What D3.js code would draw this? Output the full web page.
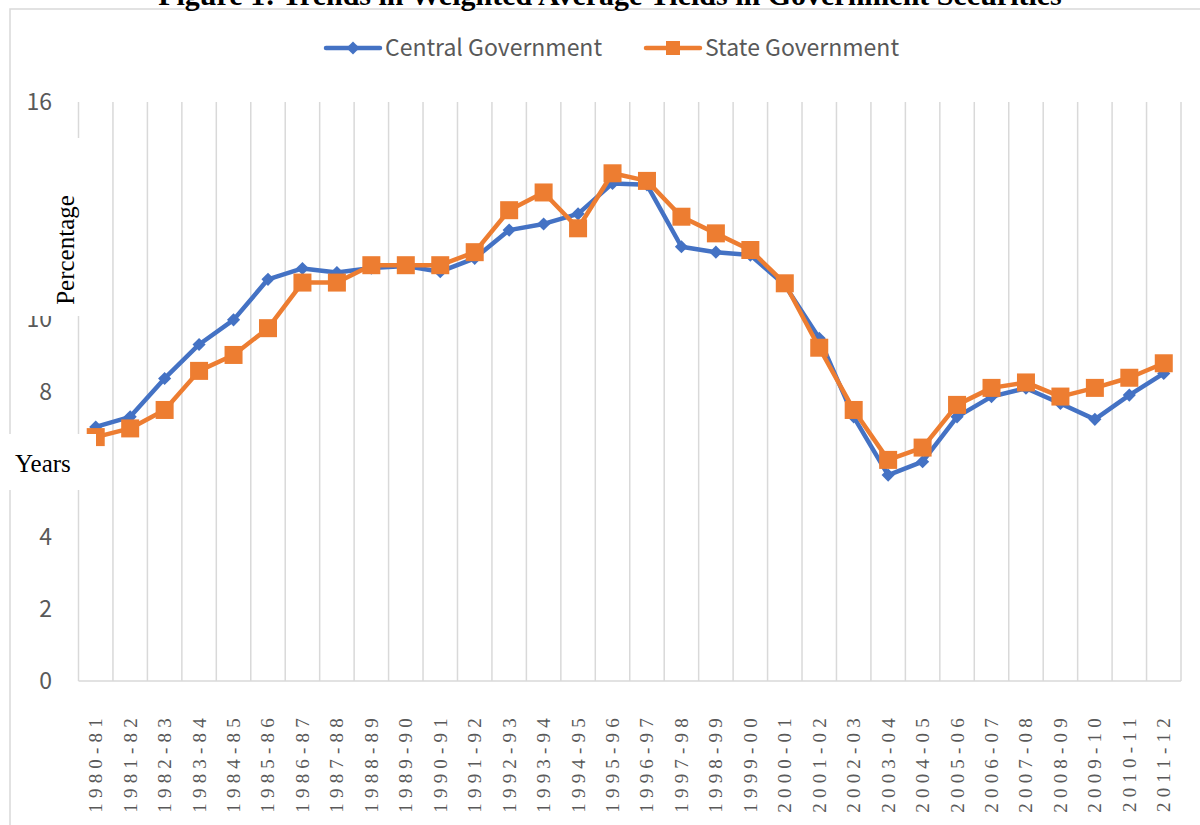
<!DOCTYPE html>
<html>
<head>
<meta charset="utf-8">
<script src="https://cdn.jsdelivr.net/npm/d3@7"></script>
<style>
  body { margin: 0; background: #fff; }
  svg { display: block; }
</style>
</head>
<body>
<svg></svg>
<script>
// financial years on the x axis
var years = ["1980-81","1981-82","1982-83","1983-84","1984-85","1985-86","1986-87","1987-88",
  "1988-89","1989-90","1990-91","1991-92","1992-93","1993-94","1994-95","1995-96",
  "1996-97","1997-98","1998-99","1999-00","2000-01","2001-02","2002-03","2003-04",
  "2004-05","2005-06","2006-07","2007-08","2008-09","2009-10","2010-11","2011-12"];

// weighted average yields (%)
var central = [7.02, 7.30, 8.36, 9.30, 9.98, 11.10, 11.40, 11.29, 11.41, 11.47, 11.31, 11.68,
  12.46, 12.63, 12.91, 13.75, 13.71, 12.00, 11.85, 11.77, 10.94, 9.47, 7.30, 5.69,
  6.06, 7.30, 7.86, 8.09, 7.67, 7.23, 7.90, 8.50];
var state = [6.74, 6.98, 7.49, 8.57, 9.01, 9.75, 11.01, 11.01, 11.49, 11.49, 11.49, 11.85,
  13.01, 13.50, 12.51, 14.03, 13.82, 12.83, 12.37, 11.91, 10.99, 9.21, 7.49, 6.11,
  6.45, 7.63, 8.10, 8.25, 7.86, 8.10, 8.38, 8.78];

var yTicks = [0, 2, 4, 6, 8, 10, 12, 14, 16];
var seriesNames = ["Central Government", "State Government"];

var svgW = 1200;
var svgH = 825;
var svg = d3.select("svg")
            .attr("width", svgW)
            .attr("height", svgH);

var blue = "#4472C4";
var orange = "#ED7D31";
var grid = "#d9d9d9";
var textGray = "#595959";

// chart area border (runs off the right and bottom of the picture)
svg.append("rect")
  .attr("x", 10).attr("y", 9)
  .attr("width", 1300).attr("height", 900)
  .attr("fill", "none")
  .attr("stroke", grid)
  .attr("stroke-width", 1.5);

// title, cut off at the top
svg.append("text")
  .text("Figure 1: Trends in Weighted Average Yields in Government Securities")
  .attr("x", 610)
  .attr("y", 5)
  .attr("text-anchor", "middle")
  .style("font-family", "'Liberation Serif', serif")
  .style("font-weight", "bold")
  .style("font-size", "30px")
  .attr("fill", "#000");

// scales
var xScale = d3.scaleBand()
  .domain(years)
  .range([78.5, 1181])
  .padding(0);
var yScale = d3.scaleLinear()
  .domain([0, 16])
  .range([681, 102]);

function cx(d, i) { return xScale(years[i]) + xScale.bandwidth() / 2; }

// vertical gridlines at category boundaries
var edges = years.map(function(d) { return xScale(d); }).concat([xScale.range()[1]]);
svg.append("g")
  .selectAll("line")
  .data(edges)
  .enter()
  .append("line")
  .attr("x1", function(d) { return d; })
  .attr("x2", function(d) { return d; })
  .attr("y1", yScale(16))
  .attr("y2", yScale(0))
  .attr("stroke", grid)
  .attr("stroke-width", 1.5);

// bottom axis line
svg.append("line")
  .attr("x1", xScale.range()[0]).attr("x2", xScale.range()[1])
  .attr("y1", yScale(0)).attr("y2", yScale(0))
  .attr("stroke", grid)
  .attr("stroke-width", 1.5);

// y tick labels
svg.append("g")
  .selectAll("text")
  .data(yTicks)
  .enter()
  .append("text")
  .attr("x", 52)
  .attr("y", function(d) { return yScale(d); })
  .attr("dy", "0.36em")
  .attr("text-anchor", "end")
  .style("font-family", "'Noto Sans CJK KR', 'Noto Sans', sans-serif")
  .style("font-size", "23px")
  .attr("fill", textGray)
  .text(function(d) { return d; });

// x tick labels, rotated
svg.append("g")
  .selectAll("text")
  .data(years)
  .enter()
  .append("text")
  .attr("transform", function(d) {
    return "translate(" + (xScale(d) + xScale.bandwidth() / 2) + ",713) rotate(-90)";
  })
  .attr("dy", "0.34em")
  .attr("text-anchor", "end")
  .style("font-family", "'Liberation Serif', serif")
  .style("font-size", "19px")
  .style("letter-spacing", "5.2px")
  .attr("fill", textGray)
  .text(function(d) { return d; });

// lines + markers
var line = d3.line()
  .x(cx)
  .y(function(d) { return yScale(d); });

svg.append("path")
  .datum(central)
  .attr("d", line)
  .attr("fill", "none")
  .attr("stroke", blue)
  .attr("stroke-width", 4.5)
  .attr("stroke-linejoin", "round");

svg.append("g")
  .selectAll("path")
  .data(central)
  .enter()
  .append("path")
  .attr("d", d3.symbol().type(d3.symbolDiamond2).size(110))
  .attr("transform", function(d, i) { return "translate(" + cx(d, i) + "," + yScale(d) + ")"; })
  .attr("fill", blue);

svg.append("path")
  .datum(state)
  .attr("d", line)
  .attr("fill", "none")
  .attr("stroke", orange)
  .attr("stroke-width", 4.5)
  .attr("stroke-linejoin", "round");

svg.append("g")
  .selectAll("rect")
  .data(state)
  .enter()
  .append("rect")
  .attr("x", function(d, i) { return cx(d, i) - 9; })
  .attr("y", function(d) { return yScale(d) - 9; })
  .attr("width", 18)
  .attr("height", 18)
  .attr("fill", orange);

// legend
var legendX = [326, 646];
var legendColors = [blue, orange];
var legend = svg.selectAll(".legend")
  .data(seriesNames)
  .enter()
  .append("g")
  .attr("class", "legend")
  .attr("transform", function(d, i) { return "translate(" + legendX[i] + ",48)"; });

legend.append("line")
  .attr("x1", 0).attr("x2", 54)
  .attr("y1", 0).attr("y2", 0)
  .attr("stroke", function(d, i) { return legendColors[i]; })
  .attr("stroke-width", 4.5)
  .attr("stroke-linecap", "round");

legend.append("path")
  .attr("d", function(d, i) {
    return i == 0 ? d3.symbol().type(d3.symbolDiamond2).size(110)() : "M-7,-7H7V7H-7Z";
  })
  .attr("transform", "translate(27,0)")
  .attr("fill", function(d, i) { return legendColors[i]; });

legend.append("text")
  .attr("x", 59)
  .attr("y", 0)
  .attr("dy", "0.36em")
  .style("font-family", "'Noto Sans CJK KR', 'Noto Sans', sans-serif")
  .style("font-size", "23px")
  .attr("fill", textGray)
  .text(function(d) { return d; });

// white boxes pasted over the chart with the axis titles
svg.append("rect")
  .attr("x", 22).attr("y", 138)
  .attr("width", 62).attr("height", 178)
  .attr("fill", "#fff");
svg.append("text")
  .text("Percentage")
  .attr("transform", "translate(65,250) rotate(-90)")
  .attr("dy", "0.35em")
  .attr("text-anchor", "middle")
  .style("font-family", "'Liberation Serif', serif")
  .style("font-size", "25px")
  .attr("fill", "#000");

svg.append("rect")
  .attr("x", 0).attr("y", 434)
  .attr("width", 96).attr("height", 56)
  .attr("fill", "#fff");
svg.append("text")
  .text("Years")
  .attr("x", 15)
  .attr("y", 472)
  .style("font-family", "'Liberation Serif', serif")
  .style("font-size", "25px")
  .attr("fill", "#000");
</script>
</body>
</html>
